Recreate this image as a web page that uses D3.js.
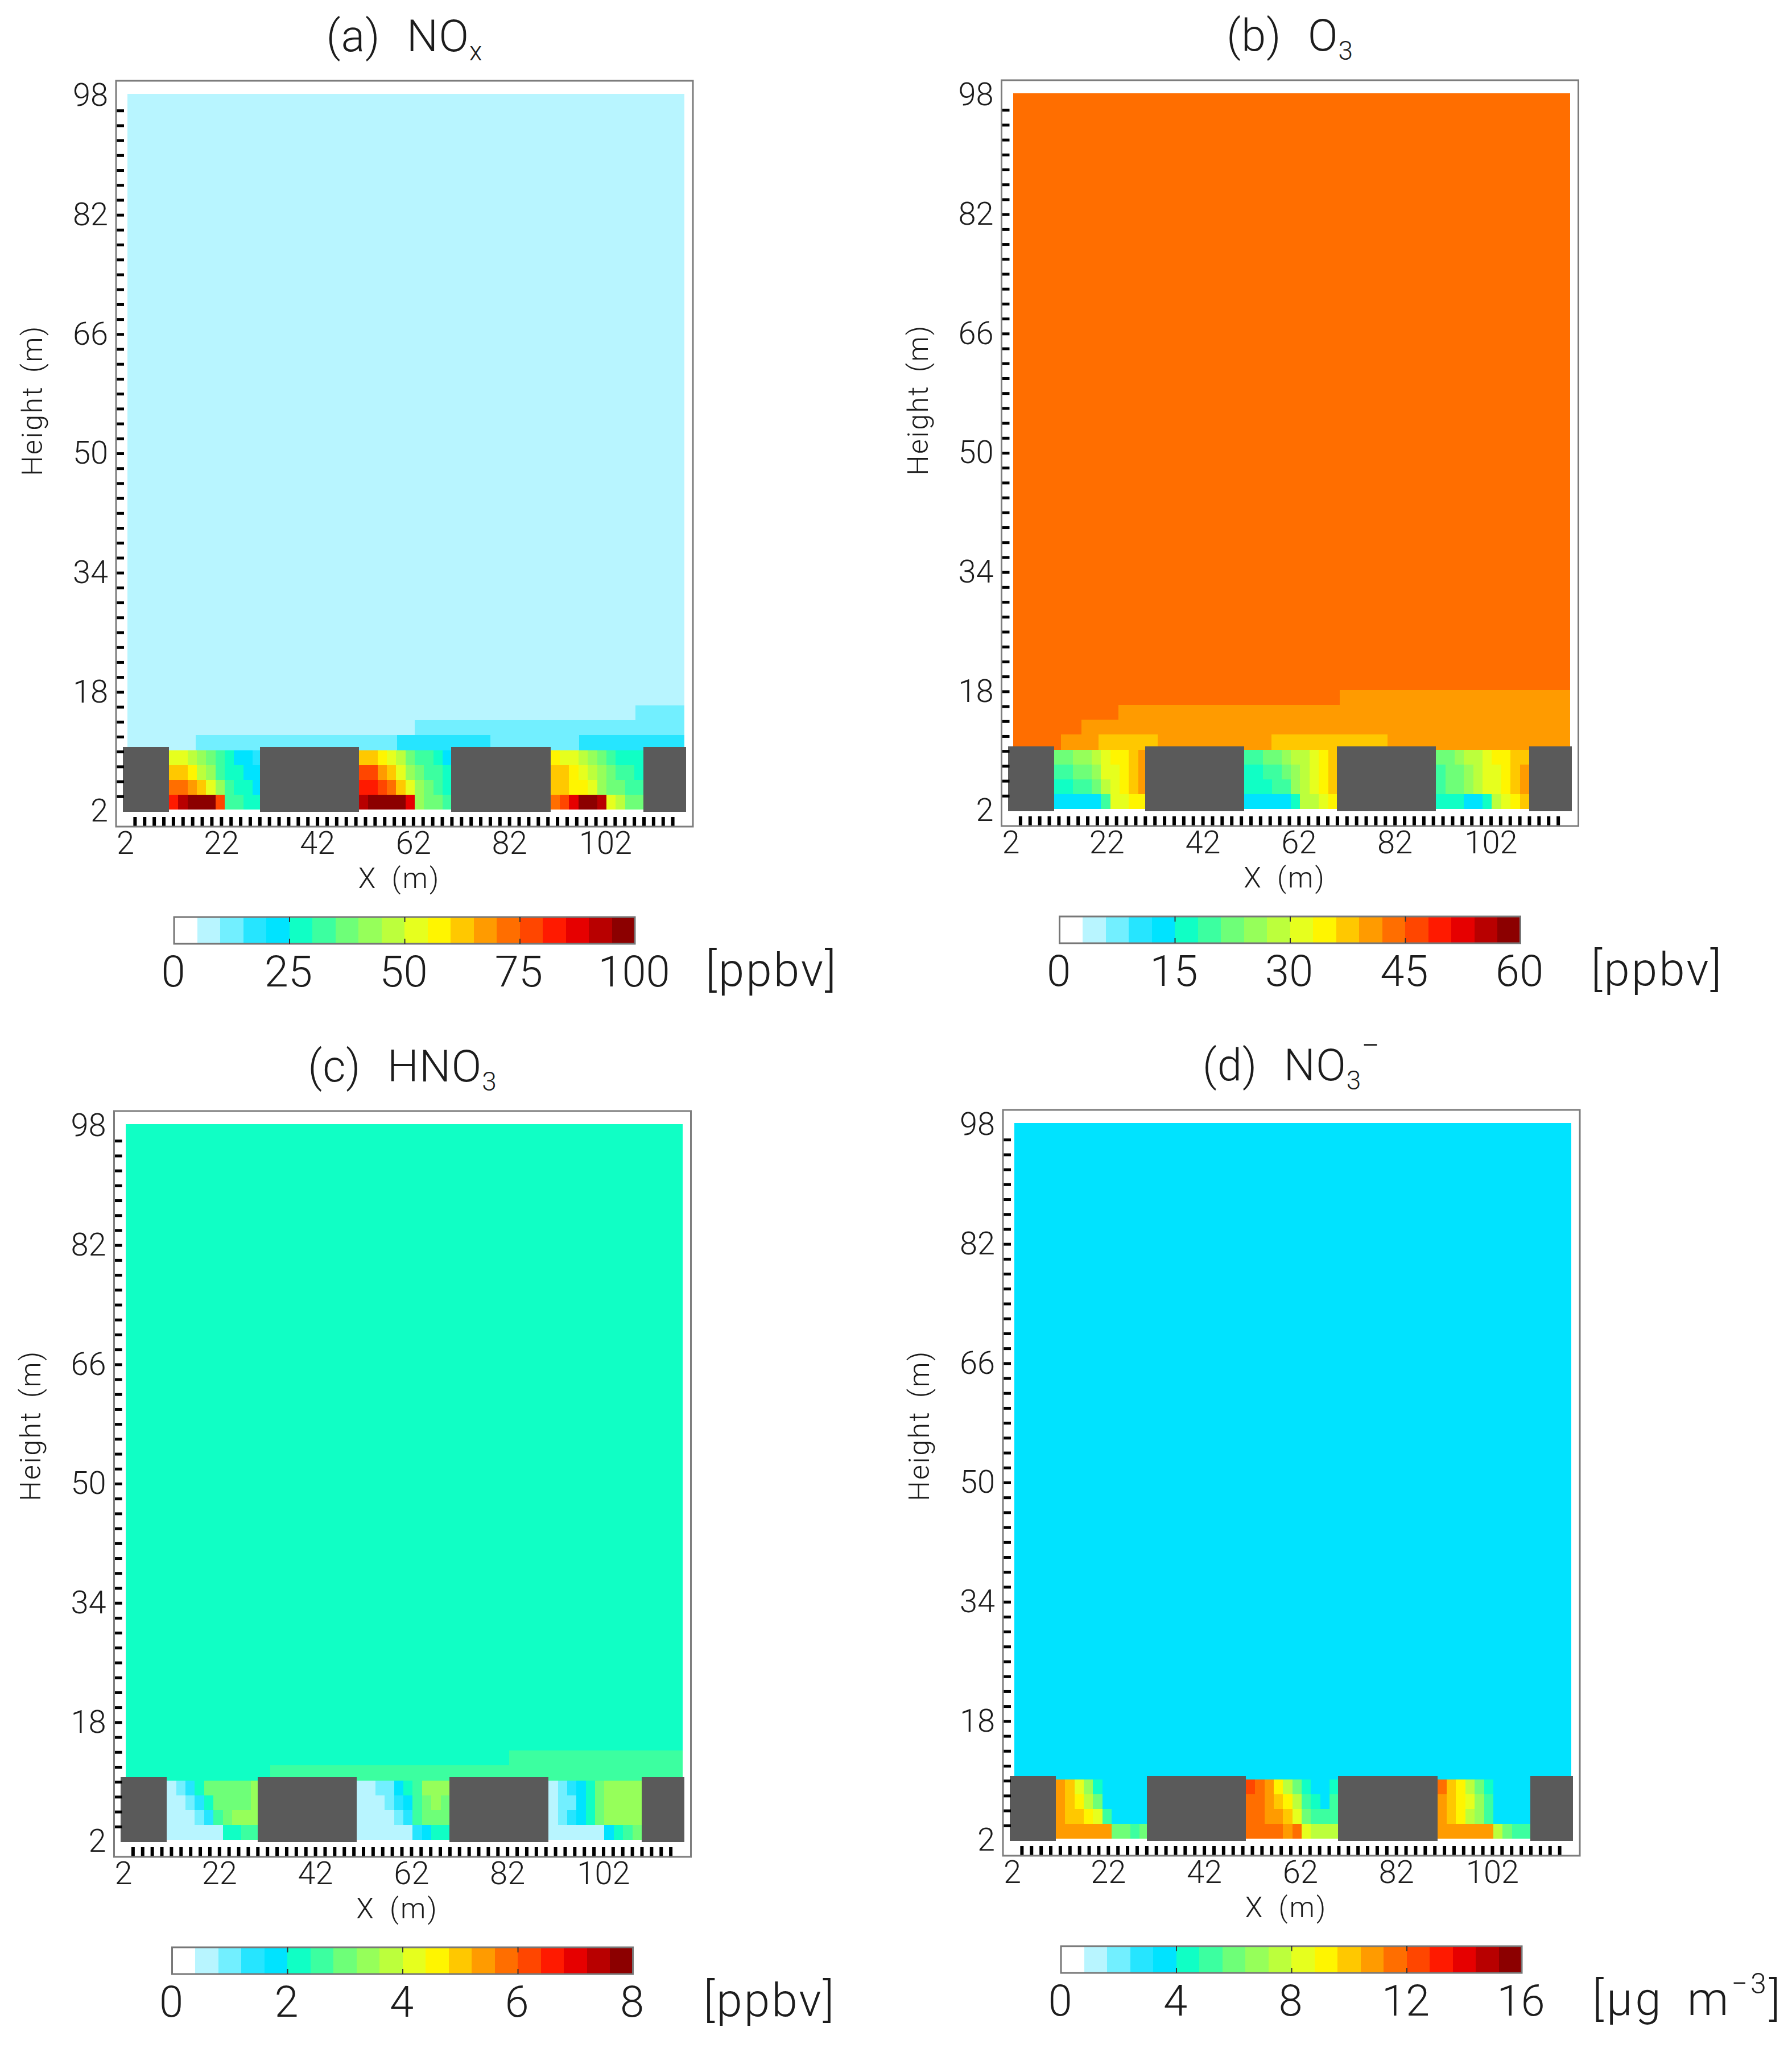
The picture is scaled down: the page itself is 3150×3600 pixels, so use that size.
<!DOCTYPE html>
<html>
<head>
<meta charset="utf-8">
<script src="https://cdn.jsdelivr.net/npm/d3@7"></script>
<style>
  html, body { margin: 0; background: #fff; }
  text { font-family: Roboto, "Liberation Sans", sans-serif; font-weight: 300; fill: #1c1c1c; }
</style>
</head>
<body>
<svg width="3150" height="3600"></svg>
<script>
// colour bar shared by the four panels, 20 bins
var palette = ["#ffffff", "#b8f5ff", "#72efff", "#26e5ff", "#00e3ff",
               "#10ffc5", "#3cffa0", "#6eff78", "#96ff5a", "#bcff3c",
               "#e6ff1e", "#fff500", "#ffc800", "#ff9b00", "#ff6e00",
               "#ff4600", "#ff1a00", "#e60000", "#b80000", "#8c0000"];

var xTickLabels = [2, 22, 42, 62, 82, 102];
var yTickLabels = [2, 18, 34, 50, 66, 82, 98];
var xMinorTicks = d3.range(4, 117, 2);
var yMinorTicks = d3.range(4, 97, 2);

// buildings [x0, x1] in metres, and where each street canyon starts
var buildings = [[1.5, 11.1], [30.05, 50.67], [69.95, 90.6], [110, 118.85]];
var canyonStarts = [11.1, 50.67, 90.6];

// colour bin for each canyon cell
// three canyons, each with rows from the roof down to the street, 10 columns
var noxCanyons = [
  [[10,10,9,8,7,6,5,4,4,3], [12,12,11,9,8,6,5,5,4,4], [14,14,13,12,10,8,6,5,5,4], [16,18,19,19,19,15,6,6,5,5]],
  [[12,12,11,10,9,7,6,6,5,4], [15,15,13,12,10,8,7,6,6,5], [16,16,15,14,12,10,8,7,6,5], [18,19,19,19,19,17,8,7,7,6]],
  [[11,10,10,9,8,7,6,5,5,5], [12,12,11,10,9,8,7,6,6,5], [12,12,11,11,10,8,7,7,6,6], [14,15,17,19,19,18,10,9,7,7]]
];
var o3Canyons = [
  [[7,7,8,8,9,10,11,11,12,13], [6,6,7,7,8,10,10,11,12,13], [5,5,6,6,7,9,10,11,12,13], [4,4,4,4,4,6,10,10,11,11]],
  [[6,6,7,7,8,9,9,10,11,12], [5,5,6,6,7,8,9,10,11,12], [5,5,5,6,6,8,9,10,11,12], [4,4,4,4,4,5,9,9,10,11]],
  [[7,7,8,9,9,10,11,11,12,12], [6,7,7,8,9,10,10,11,12,13], [6,7,7,8,9,10,10,11,12,13], [5,5,5,4,4,5,9,10,11,12]]
];
var hno3Canyons = [
  [[1,2,3,5,7,7,7,7,7,8], [1,1,2,3,5,7,7,7,7,8], [1,1,1,2,3,6,7,8,8,8], [1,1,1,1,1,1,5,5,6,6]],
  [[1,1,2,2,4,5,6,8,8,8], [1,1,1,2,3,4,6,7,8,7], [1,1,1,1,2,3,6,7,7,7], [1,1,1,1,1,1,3,4,5,5]],
  [[1,2,3,4,5,7,8,8,8,8], [1,2,2,4,5,7,8,8,8,8], [1,2,3,4,5,7,8,8,8,8], [1,1,1,1,1,1,4,5,6,7]]
];
var no3Canyons = [
  [[13,12,10,8,5,4,4,4,4,4], [13,12,11,9,7,4,4,4,4,4], [13,12,12,11,10,6,4,4,4,4], [13,13,13,13,13,13,7,7,6,7]],
  [[15,14,13,11,9,7,5,4,4,5], [14,14,13,12,11,9,6,5,4,6], [14,14,13,13,12,10,7,6,6,6], [14,14,14,14,13,14,10,9,9,9]],
  [[14,12,11,9,7,5,4,4,4,4], [13,12,11,10,8,6,4,4,4,4], [13,12,11,9,8,6,4,4,4,4], [13,13,13,13,13,13,9,7,6,6]]
];

// above the roofs: height at the bottom of the layer, then runs of [x end, bin]
var noxAloft = [
  [10.2, [[16.75,1],[58.6,2],[78.1,3],[96.6,2],[118.5,3]]],
  [12.2, [[62.3,1],[118.5,2]]],
  [14.2, [[108.3,1],[118.5,2]]]
];
var o3Aloft = [
  [10.2, [[12.5,14],[20.35,13],[32.65,12],[56.3,13],[80.5,12],[118.5,13]]],
  [12.2, [[16.7,14],[118.5,13]]],
  [14.2, [[24.5,14],[118.5,13]]],
  [16.2, [[70.5,14],[118.5,13]]]
];
var hno3Aloft = [
  [10.2, [[32.65,5],[118.5,6]]],
  [12.2, [[82.4,5],[118.5,6]]]
];
var no3Aloft = [];

var panels = [
  {left: 204, top: 142, title: "(a)", species: ["NO", "x", null], topBin: 1, canyons: noxCanyons, aloft: noxAloft,
   max: 100, cbarTicks: [0, 25, 50, 75, 100], unit: "ppbv", yTitleAt: 562},
  {left: 1760.5, top: 141, title: "(b)", species: ["O", "3", null], topBin: 14, canyons: o3Canyons, aloft: o3Aloft,
   max: 60, cbarTicks: [0, 15, 30, 45, 60], unit: "ppbv", yTitleAt: 562},
  {left: 200.5, top: 1953, title: "(c)", species: ["HNO", "3", null], topBin: 5, canyons: hno3Canyons, aloft: hno3Aloft,
   max: 8, cbarTicks: [0, 2, 4, 6, 8], unit: "ppbv", yTitleAt: 553},
  {left: 1763, top: 1951, title: "(d)", species: ["NO", "3", "\u2212"], topBin: 4, canyons: no3Canyons, aloft: no3Aloft,
   max: 16, cbarTicks: [0, 4, 8, 12, 16], unit: "ug", yTitleAt: 555}
];

var frameWidth = 1014, frameHeight = 1311;
var svg = d3.select("svg");

panels.forEach(function(p) {
  var g = svg.append("g").attr("transform", "translate(" + p.left + "," + p.top + ")");

  var x = d3.scaleLinear().domain([2, 118]).range([16, 995]);
  var y = d3.scaleLinear().domain([98, 2]).range([26, 1284]);
  var colour = d3.scaleQuantize().domain([0, p.max]).range(palette);
  var binValue = function(b) { return (b + 0.5) * p.max / palette.length; };

  var field = g.append("g").attr("shape-rendering", "crispEdges");

  // background air above everything
  field.append("rect")
      .attr("x", x(2.5))
      .attr("y", y(98.2))
      .attr("width", x(118.5) - x(2.5))
      .attr("height", y(10.2) - y(98.2))
      .attr("fill", colour(binValue(p.topBin)));

  p.aloft.forEach(function(row) {
    var start = 2.5;
    row[1].forEach(function(run) {
      field.append("rect")
          .attr("x", x(start))
          .attr("y", y(row[0] + 2))
          .attr("width", x(run[0]) - x(start))
          .attr("height", y(row[0]) - y(row[0] + 2))
          .attr("fill", colour(binValue(run[1])));
      start = run[0];
    });
  });

  // canyon cells
  var colWidth = 1.94;
  p.canyons.forEach(function(canyon, c) {
    canyon.forEach(function(row, r) {
      var topH = 10.2 - 2 * r;
      field.selectAll(null)
          .data(row)
          .enter().append("rect")
          .attr("x", function(d, i) { return x(canyonStarts[c] + i * colWidth); })
          .attr("y", y(topH))
          .attr("width", x(colWidth) - x(0) + 0.5)
          .attr("height", y(topH - 2) - y(topH))
          .attr("fill", function(d) { return colour(binValue(d)); });
    });
  });

  field.selectAll(null)
      .data(buildings)
      .enter().append("rect")
      .attr("x", function(d) { return x(d[0]); })
      .attr("y", y(10.6))
      .attr("width", function(d) { return x(d[1]) - x(d[0]); })
      .attr("height", y(1.9) - y(10.6))
      .attr("fill", "#5a5a5a");

  // minor ticks point into the frame, drawn thick like the original
  var xMinor = g.append("g")
      .attr("transform", "translate(0," + frameHeight + ")")
      .call(d3.axisBottom(x).tickValues(xMinorTicks).tickSize(-17).tickFormat(""));
  xMinor.select(".domain").remove();
  xMinor.selectAll("line").attr("stroke", "#000").attr("stroke-width", 6);

  var yMinor = g.append("g")
      .call(d3.axisLeft(y).tickValues(yMinorTicks).tickSize(-14).tickFormat(""));
  yMinor.select(".domain").remove();
  yMinor.selectAll("line").attr("stroke", "#000").attr("stroke-width", 5);

  g.append("rect")
      .attr("width", frameWidth)
      .attr("height", frameHeight)
      .attr("fill", "none")
      .attr("stroke", "#7d7d7d")
      .attr("stroke-width", 3);

  var xLabels = g.append("g")
      .attr("transform", "translate(0," + frameHeight + ")")
      .call(d3.axisBottom(x).tickValues(xTickLabels).tickSize(0).tickPadding(8));
  xLabels.select(".domain").remove();
  xLabels.selectAll("text").attr("font-size", 56);

  var yLabels = g.append("g")
      .call(d3.axisLeft(y).tickValues(yTickLabels).tickSize(0).tickPadding(14));
  yLabels.select(".domain").remove();
  yLabels.selectAll("text").attr("font-size", 56);

  g.append("text")
      .attr("x", 498)
      .attr("y", frameHeight + 108)
      .attr("text-anchor", "middle")
      .attr("font-size", 50)
      .attr("letter-spacing", 3)
      .attr("word-spacing", 10)
      .text("X (m)");

  g.append("text")
      .attr("transform", "translate(-130," + p.yTitleAt + ") rotate(-90)")
      .attr("text-anchor", "middle")
      .attr("font-size", 50)
      .attr("letter-spacing", 2.5)
      .attr("word-spacing", 8)
      .text("Height (m)");

  // panel title with its sub/superscripts
  var title = g.append("text")
      .attr("x", 507)
      .attr("y", -52)
      .attr("text-anchor", "middle")
      .attr("font-size", 78)
      .attr("letter-spacing", 1)
      .attr("word-spacing", 26);
  title.append("tspan").text(p.title + " " + p.species[0]);
  title.append("tspan").attr("font-size", 46).attr("dy", 16).text(p.species[1]);
  if (p.species[2]) {
    title.append("tspan").attr("font-size", 56).attr("dy", -58).text(p.species[2]);
  }

  // colour bar
  var cbar = d3.scaleLinear().domain([0, p.max]).range([102, 912]);
  var cbarTop = 1470, cbarHeight = 47;
  var bar = g.append("g").attr("shape-rendering", "crispEdges");
  bar.selectAll("rect")
      .data(palette)
      .enter().append("rect")
      .attr("x", function(d, i) { return cbar(i * p.max / palette.length); })
      .attr("y", cbarTop)
      .attr("width", cbar(p.max / palette.length) - cbar(0) + 0.5)
      .attr("height", cbarHeight)
      .attr("fill", function(d) { return d; });

  g.append("rect")
      .attr("x", cbar(0))
      .attr("y", cbarTop)
      .attr("width", cbar(p.max) - cbar(0))
      .attr("height", cbarHeight)
      .attr("fill", "none")
      .attr("stroke", "#777")
      .attr("stroke-width", 3);

  var inner = p.cbarTicks.slice(1, -1);
  var barTop = g.append("g")
      .attr("transform", "translate(0," + cbarTop + ")")
      .call(d3.axisBottom(cbar).tickValues(inner).tickSize(9).tickFormat(""));
  barTop.select(".domain").remove();
  barTop.selectAll("line").attr("stroke", "#333").attr("stroke-width", 2);
  var barBottom = g.append("g")
      .attr("transform", "translate(0," + (cbarTop + cbarHeight) + ")")
      .call(d3.axisTop(cbar).tickValues(inner).tickSize(9).tickFormat(""));
  barBottom.select(".domain").remove();
  barBottom.selectAll("line").attr("stroke", "#333").attr("stroke-width", 2);

  var barLabels = g.append("g")
      .attr("transform", "translate(0," + (cbarTop + cbarHeight) + ")")
      .call(d3.axisBottom(cbar).tickValues(p.cbarTicks).tickSize(0).tickPadding(21));
  barLabels.select(".domain").remove();
  barLabels.selectAll("text").attr("font-size", 76).attr("dx", -2);

  var unit = g.append("text")
      .attr("x", 1036)
      .attr("y", 1591)
      .attr("font-size", 82)
      .attr("letter-spacing", p.unit == "ppbv" ? 3 : 5)
      .attr("word-spacing", 16);
  if (p.unit == "ppbv") {
    unit.text("[ppbv]");
  } else {
    unit.append("tspan").text("[\u03bcg m");
    unit.append("tspan").attr("font-size", 50).attr("dy", -38).text("\u22123");
    unit.append("tspan").attr("dy", 38).text("]");
  }
});
</script>
</body>
</html>
